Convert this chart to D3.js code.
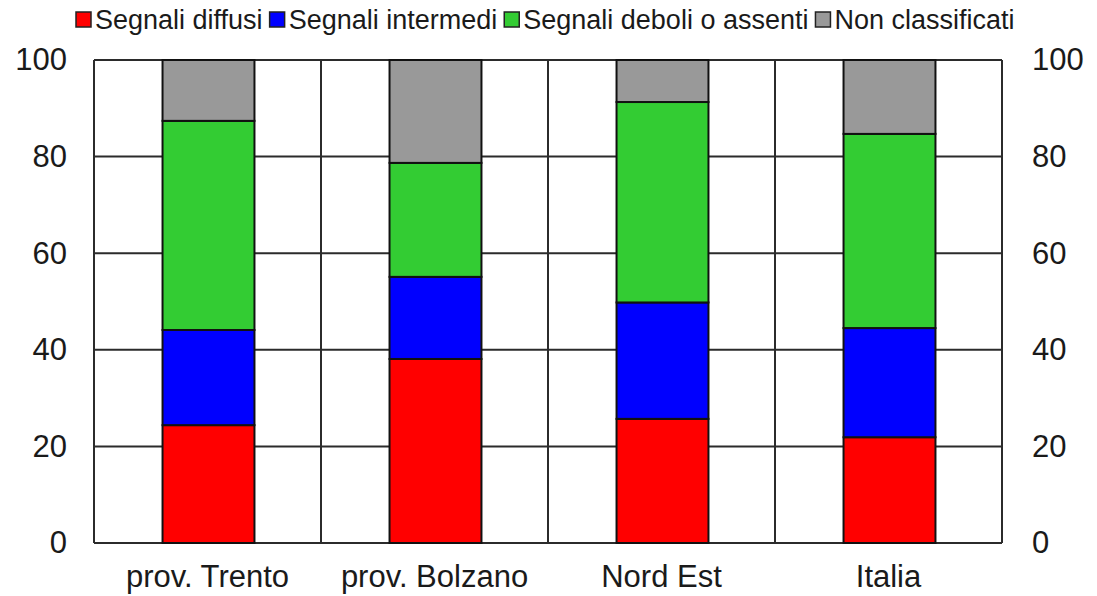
<!DOCTYPE html>
<html>
<head>
<meta charset="utf-8">
<script src="https://cdn.jsdelivr.net/npm/d3@7"></script>
<style>
  body { margin: 0; background: #fff; }
  text { font-family: "Liberation Sans", Arial, sans-serif; fill: #1a1a1a; }
</style>
</head>
<body>
<div id="chart"></div>
<script>
var categories = ["prov. Trento", "prov. Bolzano", "Nord Est", "Italia"];
var seriesNames = ["Segnali diffusi", "Segnali intermedi", "Segnali deboli o assenti", "Non classificati"];
var diffusi    = [24.4, 38.1, 25.7, 21.9];
var intermedi  = [19.7, 17.0, 24.1, 22.6];
var deboli     = [43.3, 23.6, 41.5, 40.2];
var nonClass   = [12.6, 21.3,  8.7, 15.3];
var yTicks = [0, 20, 40, 60, 80, 100];
var colors = ["#ff0000", "#0000ff", "#33cc33", "#999999"];

var W = 1097, H = 596;
var margin = {top: 60, right: 95, bottom: 53, left: 94};
var width = W - margin.left - margin.right,
    height = H - margin.top - margin.bottom;

var svg = d3.select("#chart").append("svg")
    .attr("width", W).attr("height", H);
var g = svg.append("g")
    .attr("transform", "translate(" + margin.left + "," + margin.top + ")");

var x = d3.scaleBand().domain(categories).range([0, width]).paddingInner(0).paddingOuter(0);
var y = d3.scaleLinear().domain([0, 100]).range([height, 0]);

// table for the stack
var rows = categories.map(function(c, i) {
    return {cat: c, s0: diffusi[i], s1: intermedi[i], s2: deboli[i], s3: nonClass[i]};
});
var stack = d3.stack().keys(["s0", "s1", "s2", "s3"]);
var layers = stack(rows);

// grid lines
g.selectAll(".hgrid").data(yTicks).enter().append("line")
    .attr("x1", 0).attr("x2", width)
    .attr("y1", function(d) { return y(d); }).attr("y2", function(d) { return y(d); })
    .attr("stroke", "#2b2b2b").attr("stroke-width", 2);
var bounds = categories.map(function(c) { return x(c); }).concat([width]);
g.selectAll(".vgrid").data(bounds).enter().append("line")
    .attr("x1", function(d) { return d; }).attr("x2", function(d) { return d; })
    .attr("y1", 0).attr("y2", height)
    .attr("stroke", "#2b2b2b").attr("stroke-width", 2);

// bars
var barW = x.bandwidth() * 0.405;
g.selectAll(".layer").data(layers).enter().append("g")
    .attr("fill", function(d, i) { return colors[i]; })
    .selectAll("rect").data(function(d) { return d; }).enter().append("rect")
    .attr("x", function(d) { return x(d.data.cat) + x.bandwidth() / 2 - barW / 2 + 1; })
    .attr("width", barW)
    .attr("y", function(d) { return y(d[1]); })
    .attr("height", function(d) { return y(d[0]) - y(d[1]); })
    .attr("stroke", "#111").attr("stroke-width", 2);

// axes
var yAxisL = d3.axisLeft(y).tickValues(yTicks).tickSize(0).tickPadding(27);
var yAxisR = d3.axisRight(y).tickValues(yTicks).tickSize(0).tickPadding(30);
var gl = g.append("g").call(yAxisL);
var gr = g.append("g").attr("transform", "translate(" + width + ",0)").call(yAxisR);
[gl, gr].forEach(function(a) {
    a.select(".domain").remove();
    a.selectAll("text").style("font-size", "31px").attr("fill", "#1a1a1a")
        .style("font-family", "'Liberation Sans', Arial, sans-serif");
});

var xAxis = d3.axisBottom(x).tickSize(0).tickPadding(22);
var gx = g.append("g").attr("transform", "translate(0," + height + ")").call(xAxis);
gx.select(".domain").remove();
gx.selectAll("text").style("font-size", "31px").attr("fill", "#1a1a1a")
    .style("font-family", "'Liberation Sans', Arial, sans-serif");

// legend
var legend = svg.append("g").attr("transform", "translate(76,20)");
var lx = 0;
seriesNames.forEach(function(name, i) {
    legend.append("rect")
        .attr("x", lx).attr("y", -8).attr("width", 15).attr("height", 15)
        .attr("fill", colors[i]).attr("stroke", "#222").attr("stroke-width", 1.5);
    var t = legend.append("text")
        .attr("x", lx + 19).attr("y", 0).attr("dy", "0.35em")
        .style("font-size", "27px").text(name);
    lx += 19 + t.node().getComputedTextLength() + 7;
});
</script>
</body>
</html>
